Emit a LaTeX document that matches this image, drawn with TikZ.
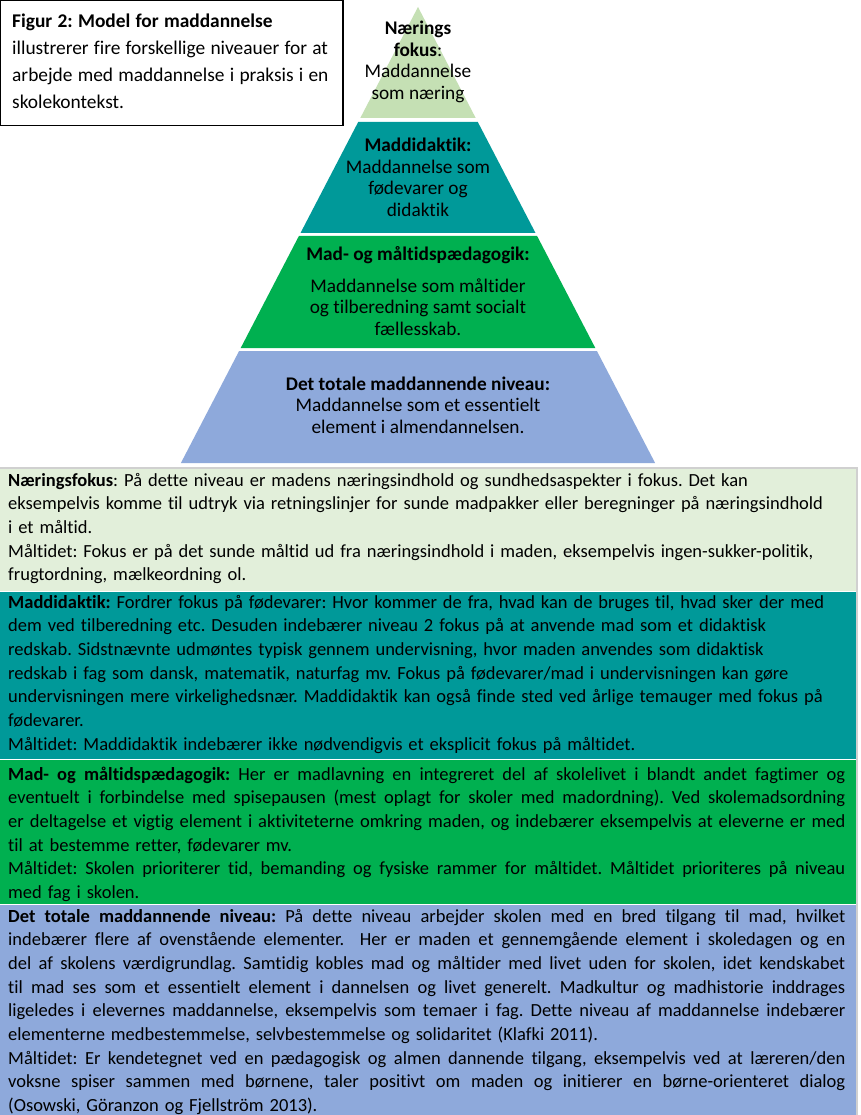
\documentclass[tikz,border=0pt]{standalone}
\usepackage{fontspec}
\setmainfont{Carlito}[Ligatures=NoCommon]
\frenchspacing
\definecolor{pyrA}{HTML}{C5E0B4}
\definecolor{pyrB}{HTML}{009999}
\definecolor{pyrC}{HTML}{00B050}
\definecolor{pyrD}{HTML}{8EA9DB}
\definecolor{bandA}{HTML}{E2EFDA}
\definecolor{rulegray}{HTML}{D0D0D0}
\newcommand\jl[1]{\leavevmode\hbox to 837pt{\spaceskip=0pt\xspaceskip=0pt\relax #1}}
\newcommand\wsp{\spaceskip=0.32em plus 0.1em minus 0.05em\relax}
\tikzset{
  pyrtext/.style={anchor=base, text width=320pt, align=justify, inner sep=0pt,
    font=\fontsize{19.3}{21.5}\selectfont},
  bandtext/.style={anchor=base west, text width=837pt, align=justify, inner sep=0pt,
    font=\fontsize{18.5}{23.7}\selectfont},
  boxtext/.style={anchor=base west, text width=330pt, align=justify, inner sep=0pt,
    font=\fontsize{19.4}{26.7}\selectfont}
}
\begin{document}
\begin{tikzpicture}[x=1pt,y=-1pt]
\useasboundingbox (0,0) rectangle (860,1115);
\fill[white] (0,0) rectangle (860,1115);
% title box
\draw[line width=1.2pt] (0.6,0.6) rectangle (343,125.5);
\node[boxtext] (title) at (12,28) {\raggedright\spaceskip=0.27em plus 0.1em\relax
\textbf{Figur 2: Model for maddannelse}\\
illustrerer fire forskellige niveauer for at\\
arbejde med maddannelse i praksis i en\\
skolekontekst.\par};
% pyramid
\fill[pyrA] (418,7) -- (475.7,118) -- (360.3,118) -- cycle;
\fill[pyrB] (358.2,122) -- (477.8,122) -- (535.5,233) -- (300.5,233) -- cycle;
\fill[pyrC] (298.9,236) -- (537.1,236) -- (595.3,348) -- (240.7,348) -- cycle;
\fill[pyrD] (239.1,351) -- (596.9,351) -- (655.1,463) -- (180.9,463) -- cycle;
\node[pyrtext] (p1) at (418,35) {\centering\spaceskip=0pt\xspaceskip=0pt
\textbf{Nærings}\\\textbf{fokus}:\\Maddannelse\\som næring\par};
\node[pyrtext] (p2) at (418,152) {\centering\spaceskip=0pt\xspaceskip=0pt
\textbf{Maddidaktik:}\\Maddannelse som\\fødevarer og\\didaktik\par};
\node[pyrtext] (p3) at (418,260) {\centering\spaceskip=0pt\xspaceskip=0pt
\textbf{Mad- og måltidspædagogik:}\\[10.5pt]Maddannelse som måltider\\og tilberedning samt socialt\\fællesskab.\par};
\node[pyrtext] (p4) at (418,390) {\centering\spaceskip=0pt\xspaceskip=0pt
\textbf{Det totale maddannende niveau:}\\Maddannelse som et essentielt\\element i almendannelsen.\par};
% bands
\fill[rulegray] (0,466.5) rectangle (858,469);
\fill[rulegray] (856,466.5) rectangle (858,1115);
\fill[bandA] (0,469) rectangle (856,591);
\fill[pyrB] (0,592) rectangle (856,758.5);
\fill[pyrC] (0,760) rectangle (856,903.5);
\fill[pyrD] (0,905) rectangle (856,1115);
\node[bandtext] (b1) at (8,486) {\wsp
\textbf{Næringsfokus}: På dette niveau er madens næringsindhold og sundhedsaspekter i fokus. Det kan\\
eksempelvis komme til udtryk via retningslinjer for sunde madpakker eller beregninger på næringsindhold\\
i et måltid.\\
Måltidet: Fokus er på det sunde måltid ud fra næringsindhold i maden, eksempelvis ingen-sukker-politik,\\
frugtordning, mælkeordning ol.};
\node[bandtext] (b2) at (8,608) {\wsp
\textbf{Maddidaktik:} Fordrer fokus på fødevarer: Hvor kommer de fra, hvad kan de bruges til, hvad sker der med\\
dem ved tilberedning etc. Desuden indebærer niveau 2 fokus på at anvende mad som et didaktisk\\
redskab. Sidstnævnte udmøntes typisk gennem undervisning, hvor maden anvendes som didaktisk\\
redskab i fag som dansk, matematik, naturfag mv. Fokus på fødevarer/mad i undervisningen kan gøre\\
undervisningen mere virkelighedsnær. Maddidaktik kan også finde sted ved årlige temauger med fokus på\\
fødevarer.\\
Måltidet: Maddidaktik indebærer ikke nødvendigvis et eksplicit fokus på måltidet.};
\node[bandtext] (b3) at (8,780) {\wsp
\jl{\textbf{Mad- og måltidspædagogik:} Her er madlavning en integreret del af skolelivet i blandt andet fagtimer og}\\
\jl{eventuelt i forbindelse med spisepausen (mest oplagt for skoler med madordning). Ved skolemadsordning}\\
\jl{er deltagelse et vigtig element i aktiviteterne omkring maden, og indebærer eksempelvis at eleverne er med}\\
til at bestemme retter, fødevarer mv.\\
\jl{Måltidet: Skolen prioriterer tid, bemanding og fysiske rammer for måltidet. Måltidet prioriteres på niveau}\\
med fag i skolen.};
\node[bandtext] (b4) at (8,922) {\wsp
\jl{\textbf{Det totale maddannende niveau:} På dette niveau arbejder skolen med en bred tilgang til mad, hvilket}\\
\jl{indebærer flere af ovenstående elementer.~ Her er maden et gennemgående element i skoledagen og en}\\
\jl{del af skolens værdigrundlag. Samtidig kobles mad og måltider med livet uden for skolen, idet kendskabet}\\
\jl{til mad ses som et essentielt element i dannelsen og livet generelt. Madkultur og madhistorie inddrages}\\
\jl{ligeledes i elevernes maddannelse, eksempelvis som temaer i fag. Dette niveau af maddannelse indebærer}\\
elementerne medbestemmelse, selvbestemmelse og solidaritet (Klafki 2011).\\
\jl{Måltidet: Er kendetegnet ved en pædagogisk og almen dannende tilgang, eksempelvis ved at læreren/den}\\
\jl{voksne spiser sammen med børnene, taler positivt om maden og initierer en børne-orienteret dialog}\\
(Osowski, Göranzon og Fjellström 2013).};
\end{tikzpicture}
\end{document}
